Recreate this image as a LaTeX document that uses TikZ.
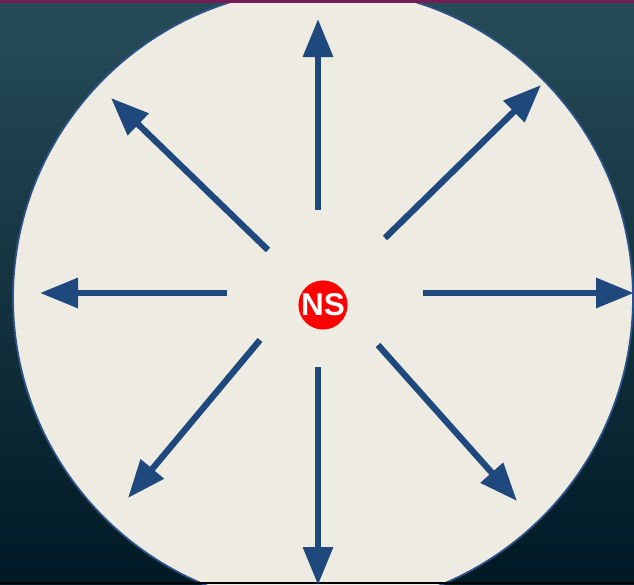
\documentclass[tikz,border=0pt]{standalone}
\usepackage{fontspec}
\setmainfont{Liberation Sans}
\usetikzlibrary{arrows.meta}
\definecolor{BgTop}{RGB}{39,76,89}
\definecolor{BgBottom}{RGB}{0,25,37}
\definecolor{DiscFill}{RGB}{238,236,226}
\definecolor{DiscEdge}{RGB}{44,82,135}
\definecolor{RayBlue}{RGB}{31,73,125}
\definecolor{TopBand}{RGB}{118,28,84}

\begin{document}
\begin{tikzpicture}[x=1pt,y=-1pt,
  ray/.style={draw=RayBlue,line width=6.3pt,
              -{Triangle[length=38pt,width=29pt]}},
  core/.style={circle,fill=red,minimum size=48pt,inner sep=0pt,
               text=white,font=\bfseries\fontsize{31.5}{31.5}\selectfont},
]
\useasboundingbox (0,0) rectangle (634,584);
\clip (0,0) rectangle (634,584);
% background
\shade[top color=BgTop,bottom color=BgBottom] (0,0) rectangle (634,584);
% disc
\draw[fill=DiscFill,draw=DiscEdge,line width=1.8pt] (323,298) circle[radius=310pt];
% frame bands
\fill[TopBand] (0,0) rectangle (634,3);
\fill[black] (0,582) rectangle (634,584);
% source
\node[core] (ns) at (323,305) {NS};
% rays
\foreach \nm/\sx/\sy/\tx/\ty in {n/318/210/318/19,s/318/367/318/585,
    w/227/293/40/293,e/423/293/634/293,nw/268/250/111/98,
    ne/385/238/541/85,sw/260/340/128/498,se/378/345/517/501}{
  \coordinate (\nm-from) at (\sx,\sy);
  \coordinate (\nm-to) at (\tx,\ty);
  \draw[ray] (\nm-from) -- (\nm-to);
}
\end{tikzpicture}
\end{document}
